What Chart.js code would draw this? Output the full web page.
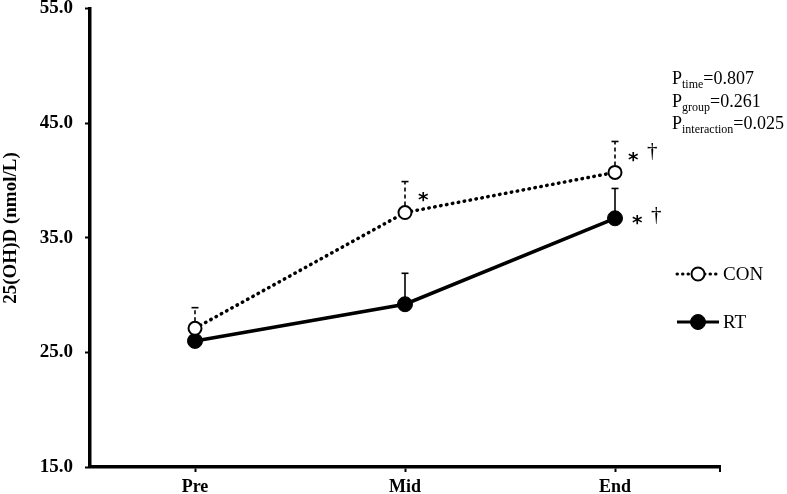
<!DOCTYPE html>
<html>
<head>
<meta charset="utf-8">
<script src="https://cdn.jsdelivr.net/npm/chart.js@4.4.1/dist/chart.umd.min.js"></script>
<style>
  html, body { margin: 0; padding: 0; background: #fff; }
  #wrap { width: 787px; height: 494px; }
</style>
</head>
<body>
<div id="wrap"><canvas id="vitChart" width="787" height="494"></canvas></div>
<script>
// 측정 시점
const timepoints = ['Pre', 'Mid', 'End'];
// 평균값
const conMeans = [27.1, 37.2, 40.7];
const rtMeans  = [26.0, 29.2, 36.7];
// 표준편차 (위쪽만)
const conSd = [1.8, 2.7, 2.7];
const rtSd  = [1.0, 2.7, 2.6];
// 유의 표시
const conMarks = ['', '*', '* †'];
const rtMarks  = ['', '', '* †'];
// y축 눈금
const yTicks = [15, 25, 35, 45, 55];
// p값
const pLabels = [['time', '0.807'], ['group', '0.261'], ['interaction', '0.025']];

const SERIF = '"Liberation Serif", "DejaVu Serif", serif';

const extrasPlugin = {
  id: 'extras',
  beforeDatasetsDraw(chart) {
    const ctx = chart.ctx;
    const y = chart.scales.y;
    const sdSets = [conSd, rtSd];
    ctx.save();
    chart.data.datasets.forEach((ds, di) => {
      const meta = chart.getDatasetMeta(di);
      meta.data.forEach((pt, i) => {
        const top = y.getPixelForValue(ds.data[i] + sdSets[di][i]);
        ctx.strokeStyle = '#000';
        ctx.lineWidth = 1.6;
        ctx.setLineDash(di === 0 ? [4, 3] : []);
        ctx.beginPath();
        ctx.moveTo(pt.x, pt.y);
        ctx.lineTo(pt.x, top);
        ctx.stroke();
        ctx.setLineDash([]);
        ctx.beginPath();
        ctx.moveTo(pt.x - 3.5, top);
        ctx.lineTo(pt.x + 3.5, top);
        ctx.stroke();
      });
    });
    ctx.restore();
  },
  afterDraw(chart) {
    const ctx = chart.ctx;
    const area = chart.chartArea;
    ctx.save();
    ctx.fillStyle = '#000';

    // y축 제목
    ctx.save();
    ctx.translate(11, 228);
    ctx.rotate(-Math.PI / 2);
    ctx.font = 'bold 19px ' + SERIF;
    ctx.textAlign = 'center';
    ctx.textBaseline = 'middle';
    ctx.fillText('25(OH)D (nmol/L)', 0, 0);
    ctx.restore();

    // 유의 표시
    const markSets = [conMarks, rtMarks];
    const offs = [[13, -16], [17, 2]];
    chart.data.datasets.forEach((ds, di) => {
      const meta = chart.getDatasetMeta(di);
      meta.data.forEach((pt, i) => {
        const m = markSets[di][i];
        if (!m) return;
        let x = pt.x + offs[di][0];
        const yy = pt.y + offs[di][1];
        ctx.textBaseline = 'middle';
        ctx.textAlign = 'left';
        m.split(' ').forEach(s => {
          if (s === '*') {
            ctx.font = 'bold 20px "DejaVu Sans", sans-serif';
            ctx.fillText('*', x, yy + 4);
            x += 19;
          } else {
            ctx.font = '21px ' + SERIF;
            ctx.fillText(s, x, yy - 5);
            x += 12;
          }
        });
      });
    });

    // 범례
    const legend = [{ y: 274, ds: 0, text: 'CON' }, { y: 322, ds: 1, text: 'RT' }];
    legend.forEach(l => {
      const ds = chart.data.datasets[l.ds];
      ctx.strokeStyle = '#000';
      ctx.lineWidth = 3;
      ctx.lineCap = l.ds === 0 ? 'round' : 'butt';
      ctx.setLineDash(l.ds === 0 ? [0.5, 5] : []);
      ctx.beginPath();
      ctx.moveTo(677, l.y);
      ctx.lineTo(719, l.y);
      ctx.stroke();
      ctx.setLineDash([]);
      ctx.beginPath();
      ctx.arc(698, l.y, ds.pointRadius, 0, Math.PI * 2);
      ctx.fillStyle = ds.pointBackgroundColor;
      ctx.fill();
      ctx.lineWidth = ds.pointBorderWidth;
      ctx.stroke();
      ctx.fillStyle = '#000';
      ctx.font = '19px ' + SERIF;
      ctx.textAlign = 'left';
      ctx.textBaseline = 'middle';
      ctx.fillText(l.text, 723, l.y + 1);
    });

    // p값
    pLabels.forEach((p, i) => {
      const by = 84 + i * 22.5;
      let x = 672;
      ctx.textBaseline = 'alphabetic';
      ctx.font = '18px ' + SERIF;
      ctx.fillText('P', x, by);
      x += ctx.measureText('P').width;
      ctx.font = '12px ' + SERIF;
      ctx.fillText(p[0], x, by + 4);
      x += ctx.measureText(p[0]).width;
      ctx.font = '18px ' + SERIF;
      ctx.fillText('=' + p[1], x, by);
    });

    // x축 끝 눈금
    ctx.strokeStyle = '#000';
    ctx.lineWidth = 2;
    ctx.beginPath();
    ctx.moveTo(area.right, area.bottom);
    ctx.lineTo(area.right, area.bottom + 5);
    ctx.stroke();
    ctx.restore();
  }
};

const canvas = document.getElementById('vitChart');
new Chart(canvas.getContext('2d'), {
  type: 'line',
  data: {
    labels: timepoints,
    datasets: [{
      label: 'CON',
      data: conMeans,
      borderColor: '#000',
      borderWidth: 3.5,
      borderDash: [0.5, 5.5],
      borderCapStyle: 'round',
      pointRadius: 6.5,
      pointBorderWidth: 2,
      pointBorderColor: '#000',
      pointBackgroundColor: '#fff',
      tension: 0
    }, {
      label: 'RT',
      data: rtMeans,
      borderColor: '#000',
      borderWidth: 3.5,
      pointRadius: 7.5,
      pointBorderWidth: 1,
      pointBorderColor: '#000',
      pointBackgroundColor: '#000',
      tension: 0
    }]
  },
  options: {
    responsive: false,
    animation: false,
    devicePixelRatio: 1,
    layout: { padding: { top: 7, right: 67, left: 0, bottom: 0 } },
    scales: {
      x: {
        offset: true,
        afterFit: s => { s.height = 27; s.paddingLeft = 0; s.paddingRight = 0; },
        grid: { drawOnChartArea: false, offset: false, tickLength: 5, tickColor: '#000', tickWidth: 2 },
        border: { color: '#000', width: 3.5 },
        ticks: { color: '#000', padding: 5, font: { family: SERIF, size: 18, weight: 'bold' } }
      },
      y: {
        min: 15,
        max: 55,
        afterFit: s => { s.width = 90; s.paddingTop = 0; s.paddingBottom = 0; },
        afterBuildTicks: s => { s.ticks = yTicks.map(v => ({ value: v })); },
        grid: { drawOnChartArea: false, tickLength: 5, tickColor: '#000', tickWidth: 2 },
        border: { color: '#000', width: 3.5 },
        ticks: {
          color: '#000', padding: 12,
          font: { family: SERIF, size: 19, weight: 'bold' },
          callback: v => v.toFixed(1)
        }
      }
    },
    plugins: {
      legend: { display: false },
      tooltip: { enabled: false }
    }
  },
  plugins: [extrasPlugin]
});
</script>
</body>
</html>
